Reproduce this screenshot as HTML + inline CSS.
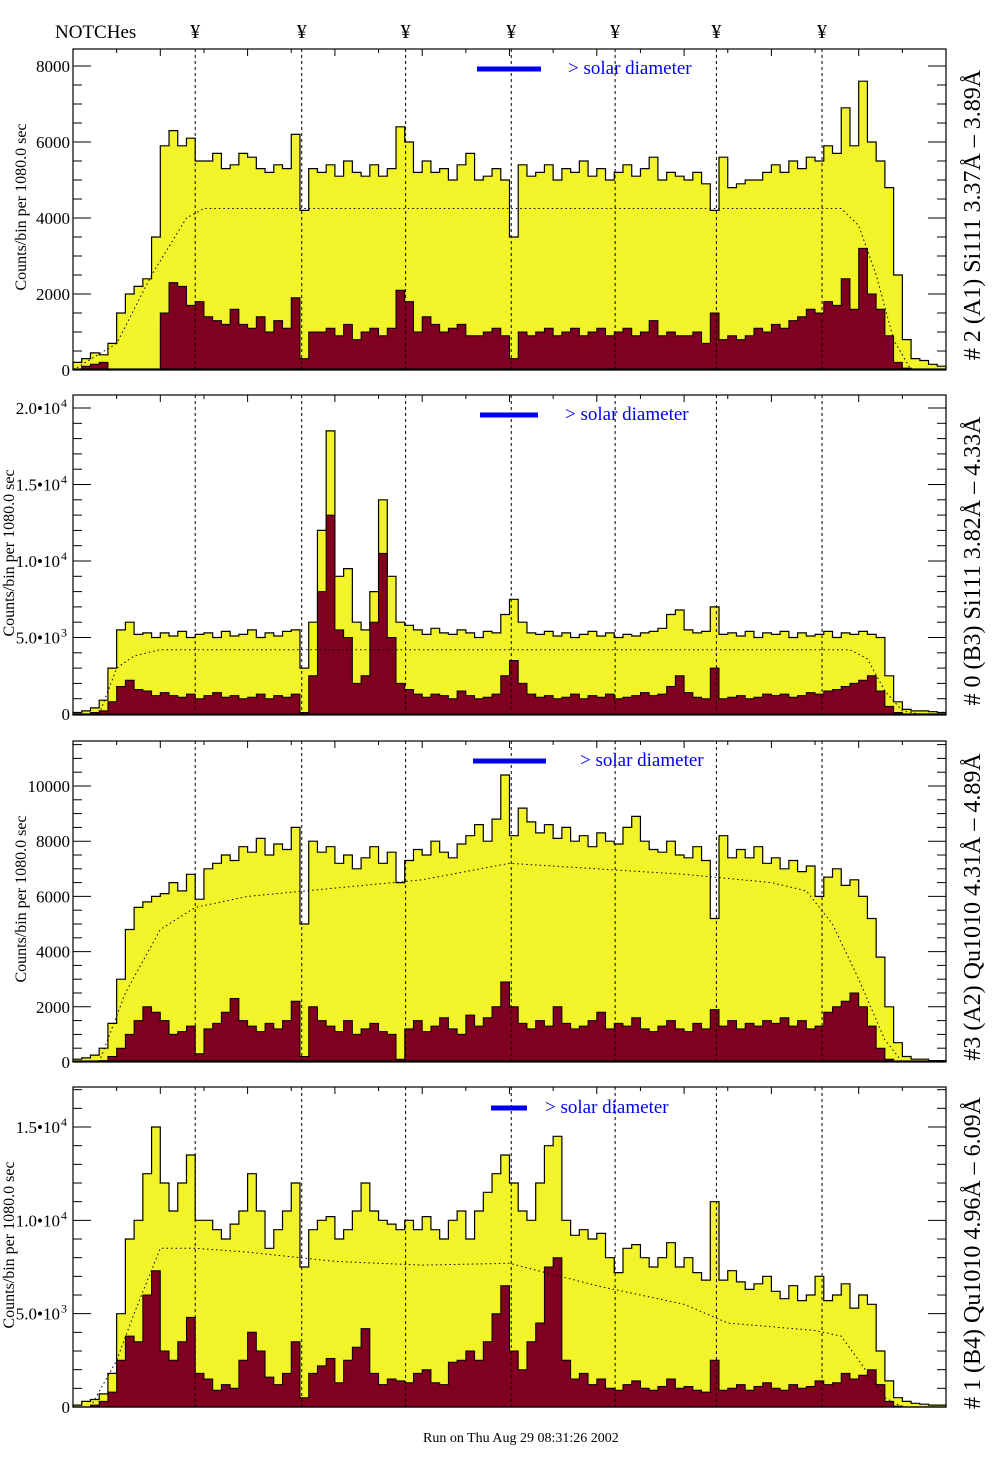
<!DOCTYPE html>
<html><head><meta charset="utf-8">
<style>
html,body{margin:0;padding:0;background:#fff;}
svg{display:block;font-family:"Liberation Serif",serif;}
</style></head>
<body>
<svg id="chart" width="1004" height="1476" viewBox="0 0 1004 1476" xmlns="http://www.w3.org/2000/svg">
<rect x="0" y="0" width="1004" height="1476" fill="#fff"/>
<text x="55" y="38" font-size="19">NOTCHes</text>
<text x="423" y="1442" font-size="14">Run on Thu Aug 29 08:31:26 2002</text>
<g id="plots"></g>
</svg>
<script>
// ---- data (counts per bin, 100 bins per panel) ----
const notchBins = [14.0, 26.2, 38.1, 50.2, 62.1, 73.7, 85.8];
const p1Total = [200,300,450,400,700,1500,2000,2200,2400,3500,5900,6300,5900,6100,5500,5500,5700,5300,5400,5700,5600,5300,5200,5400,5300,6200,4200,5300,5200,5400,5100,5500,5200,5100,5400,5100,5300,6400,6000,5200,5500,5200,5300,5000,5400,5700,5000,5100,5300,5000,3500,5400,5100,5200,5400,5000,5300,5200,5500,5100,5300,5000,5200,5400,5100,5300,5600,5000,5200,5100,5000,5200,4900,4200,5600,4800,4900,5000,5000,5200,5400,5200,5500,5300,5600,5500,5900,5700,6900,5900,7600,6000,5500,4800,2500,800,300,250,150,100];
const p1Hard = [0,100,150,200,0,0,0,0,0,0,1500,2300,2200,1700,1800,1400,1300,1200,1600,1200,1100,1400,1000,1300,1100,1900,300,1000,1000,1100,900,1200,800,1000,1100,900,1100,2100,1800,1000,1400,1200,1000,1100,1200,900,900,1000,1100,900,300,1000,900,1000,1100,900,1000,1100,900,1000,1100,900,1000,1100,900,1000,1300,900,1000,900,900,1000,700,1500,800,900,800,900,1100,1000,1200,1100,1300,1400,1600,1500,1800,1700,2400,1600,3200,2000,1600,900,200,50,0,0,0,0];
const p2Total = [100,200,400,900,3000,5500,6000,5200,5300,5000,5300,5100,5400,5000,5200,5300,5000,5400,5100,5200,5500,5000,5300,5100,5400,5500,3000,6000,12000,18500,9000,9500,6000,5500,8000,14000,9000,6000,5800,5500,5200,5600,5300,5200,5500,5300,5000,5400,5300,6500,7500,6000,5300,5200,5400,5100,5300,5000,5200,5400,5100,5300,5000,5200,5100,5300,5400,5600,6500,6800,5500,5300,5400,7000,5200,5300,5100,5400,5000,5300,5200,5400,5000,5300,5100,5200,5400,5000,5300,5200,5400,5200,5000,2500,800,300,200,200,150,100];
const p2Hard = [0,0,100,200,800,1800,2200,1600,1500,1200,1400,1200,1100,1300,1000,1200,1400,1100,1200,1000,1100,1300,1000,1200,1100,1300,100,2500,8000,13000,5500,5000,2000,2500,6000,10500,5000,2000,1600,1300,1100,1300,1200,1000,1500,1200,1000,1100,1300,2500,3500,2000,1300,1100,1200,1000,1100,1300,1000,1200,1100,1300,1000,1100,1200,1400,1200,1300,1800,2500,1400,1100,1000,3000,1000,1100,1200,1000,1100,1300,1200,1300,1100,1200,1400,1300,1500,1600,1800,2000,2200,2500,1500,500,100,0,0,0,0,0];
const p3Total = [100,150,250,500,1400,3000,4800,5600,5800,6000,6100,6500,6200,6800,5900,7000,7200,7500,7300,7800,7600,8100,7500,7900,7700,8500,5000,8000,7600,7800,7200,7500,7000,7400,7800,7200,7600,6500,7300,7700,7500,8000,7600,7400,7900,8200,8600,8000,8800,10400,8200,9200,8700,8300,8600,8100,8500,8000,8200,7800,8300,8000,7900,8500,8900,8000,7700,7600,8000,7500,7400,7800,7300,5200,8200,7400,7700,7400,7800,7200,7400,7000,7300,6900,7100,6000,6700,7000,6400,6600,6000,5200,3800,2000,700,200,100,100,50,50];
const p3Hard = [0,0,0,50,200,500,1000,1500,2000,1800,1500,1000,1100,1300,300,1200,1400,1800,2300,1500,1300,1100,1400,1200,1500,2200,200,2000,1500,1300,1100,1500,1000,1200,1400,1100,1000,100,1200,1500,1100,1300,1600,1200,1000,1700,1300,1600,2000,2900,2000,1400,1200,1500,1300,2000,1400,1200,1300,1500,1800,1200,1400,1300,1600,1200,1100,1300,1500,1200,1100,1400,1200,1900,1300,1500,1200,1400,1300,1500,1400,1600,1300,1500,1200,1300,1800,2000,2200,2500,2000,1300,500,100,0,0,0,0,0,0];
const p4Total = [100,300,400,700,1800,5000,9000,10000,12500,15000,12000,10500,12000,13500,10000,10000,9500,9000,9800,10500,12500,10500,8500,9500,10500,12000,7500,9500,10000,10200,9000,9500,10500,12000,10500,10000,9800,9500,10000,9500,10200,9500,9000,10000,10500,9000,10500,11500,12500,13500,12000,10500,10000,12000,14000,14500,10000,9200,9500,9000,9300,8000,7200,8500,8700,8000,7500,8000,8800,7500,8000,7200,6800,11000,6800,7300,6700,6300,6600,7000,6200,5800,6500,5700,6000,7000,5700,6000,6600,5300,6000,5500,3000,1400,500,300,200,150,100,100];
const p4Hard = [0,0,100,300,800,2500,3800,3500,6000,7300,3000,2500,3500,4800,1800,1500,900,1200,1000,2500,4000,3000,1600,1200,1800,3500,500,1800,2200,2600,1300,2500,3200,4200,1800,1200,1500,1400,1300,1800,2000,1300,1200,2400,2500,3000,2500,3500,5000,6500,3000,2000,3500,4500,7500,8000,2500,1500,1800,1200,1500,1000,900,1200,1400,1000,900,1100,1500,1000,1100,900,800,2500,900,1000,1200,900,1100,1300,1000,900,1200,1000,1100,1400,1200,1300,1800,1500,1700,2000,1200,300,50,0,0,0,0,0];
// model (dotted) knots: bin positions and values
const p1ModelBins = [0,5,9,13,15,88,90,92,94,96];
const p1ModelVals = [0,700,2500,4000,4250,4250,3800,2500,800,0];
const p2ModelBins = [3,5,7,10,89,91,93,95,97];
const p2ModelVals = [0,3000,3800,4200,4200,3600,1500,200,0];
const p3ModelBins = [3,6,10,14,20,30,40,50,60,70,80,84,87,90,93,95];
const p3ModelVals = [0,2500,4800,5600,6000,6300,6600,7200,7000,6800,6500,6200,5000,3000,800,0];
const p4ModelBins = [2,5,7,10,14,20,30,40,50,60,70,75,85,88,90,93,95];
const p4ModelVals = [0,2500,5000,8500,8500,8300,7800,7600,7700,6500,5500,4500,4100,3800,2500,500,0];
// ticks
const p1Ticks = [0,2000,4000,6000,8000];
const p1TickLabels = ["0","2000","4000","6000","8000"];
const p2Ticks = [0,5000,10000,15000,20000];
const p2TickLabels = ["0","5.0•10","1.0•10","1.5•10","2.0•10"];
const p2TickExp = ["","3","4","4","4"];
const p3Ticks = [0,2000,4000,6000,8000,10000];
const p3TickLabels = ["0","2000","4000","6000","8000","10000"];
const p4Ticks = [0,5000,10000,15000];
const p4TickLabels = ["0","5.0•10","1.0•10","1.5•10"];
const p4TickExp = ["","3","4","4"];

const NB = 100, X0 = 73, X1 = 946;
const panels = [
 {id:'a1', top:49, bot:369, y0:370, vmax:8000, ymaxPx:66, total:p1Total, hard:p1Hard, mb:p1ModelBins, mv:p1ModelVals, ticks:p1Ticks, labels:p1TickLabels, exp:null, minor:500, top2:8400, title:"# 2 (A1) Si111  3.37Å – 3.89Å", bar:[477,541], txt:568, ny:69},
 {id:'b3', top:395, bot:715, y0:714, vmax:20000, ymaxPx:408, total:p2Total, hard:p2Hard, mb:p2ModelBins, mv:p2ModelVals, ticks:p2Ticks, labels:p2TickLabels, exp:p2TickExp, minor:1000, top2:20800, title:"# 0 (B3) Si111  3.82Å – 4.33Å", bar:[480,538], txt:565, ny:415},
 {id:'a2', top:741, bot:1061, y0:1062, vmax:10000, ymaxPx:786, total:p3Total, hard:p3Hard, mb:p3ModelBins, mv:p3ModelVals, ticks:p3Ticks, labels:p3TickLabels, exp:null, minor:500, top2:11500, title:"#3 (A2) Qu1010  4.31Å – 4.89Å", bar:[473,546], txt:580, ny:761},
 {id:'b4', top:1087, bot:1407, y0:1407, vmax:15000, ymaxPx:1127, total:p4Total, hard:p4Hard, mb:p4ModelBins, mv:p4ModelVals, ticks:p4Ticks, labels:p4TickLabels, exp:p4TickExp, minor:1000, top2:17000, title:"# 1 (B4) Qu1010 4.96Å – 6.09Å", bar:[491,527], txt:545, ny:1108}
];
const NS='http://www.w3.org/2000/svg';
const root=document.getElementById('plots');
function mk(tag, attrs, parent){const e=document.createElementNS(NS,tag);for(const k in attrs)e.setAttribute(k,attrs[k]);(parent||root).appendChild(e);return e;}
function xOf(b){return X0 + b*(X1-X0)/NB;}

notchBins.forEach(function(b){
  const t=mk('text',{x:xOf(b),y:38,'font-size':20,'text-anchor':'middle'});
  
  
  t.textContent='¥';
});

panels.forEach(function(p){
  const g=mk('g',{});
  
  
  const yOf=function(v){const y=p.y0-(v/p.vmax)*(p.y0-p.ymaxPx);return Math.max(p.top, Math.min(p.y0, y));};
  function stepPath(arr){
    let d='M'+X0+','+p.y0;
    for(let i=0;i<NB;i++){const y=yOf(arr[i]);d+=' L'+xOf(i).toFixed(2)+','+y.toFixed(1)+' L'+xOf(i+1).toFixed(2)+','+y.toFixed(1);}
    d+=' L'+X1+','+p.y0+' Z';return d;
  }
  const yl=mk('path',{d:stepPath(p.total),fill:'#f3f32a',stroke:'#000','stroke-width':1.2},g);
  
  
  const rd=mk('path',{d:stepPath(p.hard),fill:'#800020',stroke:'#000','stroke-width':1},g);
  
  
  let md='';
  for(let i=0;i<p.mb.length;i++){md+=(i?' L':'M')+xOf(p.mb[i]).toFixed(1)+','+yOf(p.mv[i]).toFixed(1);}
  const ml=mk('path',{d:md,fill:'none',stroke:'#000','stroke-width':1,'stroke-dasharray':'1.5,3'},g);
  
  
  notchBins.forEach(function(b){
    const l=mk('line',{x1:xOf(b),x2:xOf(b),y1:p.top,y2:p.bot,stroke:'#000','stroke-width':1,'stroke-dasharray':'3,3'},g);
    
    
  });
  const fr=mk('rect',{x:X0,y:p.top,width:X1-X0,height:p.bot-p.top,fill:'none',stroke:'#000','stroke-width':1.2},g);
  
  
  for(let v=0; v<=p.top2; v+=p.minor){
    const y=yOf(v); if(y<p.top+1) continue;
    const major = p.ticks.indexOf(v)>=0;
    const len = major?18:9;
    mk('line',{x1:X0,x2:X0+len,y1:y,y2:y,stroke:'#000','stroke-width':1},g);
    mk('line',{x1:X1,x2:X1-len,y1:y,y2:y,stroke:'#000','stroke-width':1},g);
  }
  for(let i=0;i<=20;i++){const x=X0+i*(X1-X0)/20;mk('line',{x1:x,x2:x,y1:p.top,y2:p.top+(i%2?4:7),stroke:'#000','stroke-width':1},g);}
  p.ticks.forEach(function(v,i){
    const y=yOf(v);
    const hasExp = p.exp&&p.exp[i];
    const t=mk('text',{x:hasExp?60:70,y:y+6,'font-size':17,'text-anchor':'end'},g);
    
    
    t.textContent=p.labels[i];
    if(hasExp){
      const s=mk('text',{x:61,y:y-1,'font-size':12},g);
      
      
      s.textContent=p.exp[i];
    }
  });
  const cy=(p.top+p.bot)/2-2;
  const yt=mk('text',{x:0,y:0,'font-size':16,'text-anchor':'middle',transform:'translate('+(p.exp?14:26)+','+cy+') rotate(-90)'},g);
  
  
  yt.textContent='Counts/bin per   1080.0 sec';
  const rt=mk('text',{x:0,y:0,'font-size':24,'text-anchor':'middle',transform:'translate(980,'+(cy+8)+') rotate(-90)'},g);
  
  
  rt.textContent=p.title;
  const sb=mk('rect',{x:p.bar[0],y:p.ny-2.5,width:p.bar[1]-p.bar[0],height:5,fill:'#0000ee'},g);
  
  
  const st=mk('text',{x:p.txt,y:p.ny+5,'font-size':19,fill:'#0000ee'},g);
  
  
  st.textContent='> solar diameter';
});
</script>
</body></html>
